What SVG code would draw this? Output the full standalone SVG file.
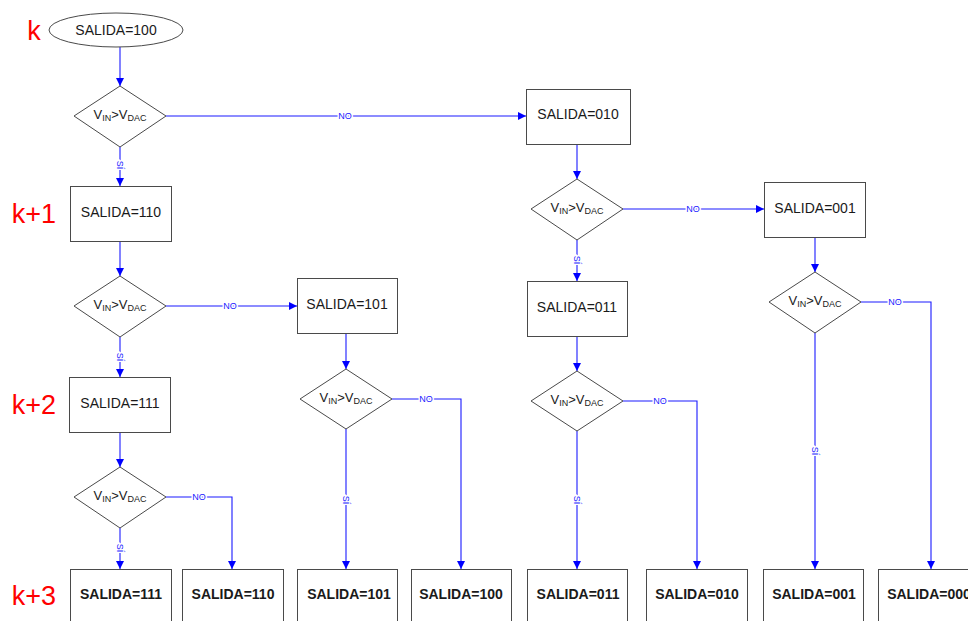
<svg xmlns="http://www.w3.org/2000/svg" width="968" height="621" viewBox="0 0 968 621">
  <defs>
    <marker id="arrow" viewBox="0 0 8 8" refX="8" refY="4" markerWidth="8" markerHeight="8" markerUnits="userSpaceOnUse" orient="auto">
      <path d="M0,0 L8,4 L0,8 z" fill="#0000ff"/>
    </marker>
    <style>
      .box { fill: #ffffff; stroke: #4a4a4a; stroke-width: 1; }
      .txt { font-family: "Liberation Sans", Arial, sans-serif; font-size: 14px; fill: #1a1a1a; text-anchor: middle; }
      .bold { font-weight: bold; }
      .cond { font-family: "Liberation Sans", Arial, sans-serif; font-size: 13px; fill: #1a1a1a; text-anchor: middle; }
      .sub { font-size: 9px; }
      .conn { fill: none; stroke: #1a1aff; stroke-width: 1.1; }
      .lbl { font-family: "Liberation Sans", Arial, sans-serif; font-size: 9px; fill: #1a1aff; text-anchor: middle; stroke: #ffffff; stroke-width: 3; paint-order: stroke; }
      .step { font-family: "Liberation Sans", Arial, sans-serif; font-size: 27px; fill: #ff0000; text-anchor: middle; }
    </style>
  </defs>
  <rect width="968" height="621" fill="#ffffff"/>

  <!-- step labels -->
  <g id="steps">
    <text class="step" x="34" y="40">k</text>
    <text class="step" x="34" y="223">k+1</text>
    <text class="step" x="34" y="414">k+2</text>
    <text class="step" x="34" y="605">k+3</text>
  </g>

  <!-- connectors -->
  <g id="connectors">
    <path class="conn" d="M120,47 V86" marker-end="url(#arrow)"/>
    <path class="conn" d="M166,116 H526" marker-end="url(#arrow)"/>
    <path class="conn" d="M120,147 V186" marker-end="url(#arrow)"/>
    <path class="conn" d="M120,242 V276" marker-end="url(#arrow)"/>
    <path class="conn" d="M166,306 H297" marker-end="url(#arrow)"/>
    <path class="conn" d="M120,337 V377" marker-end="url(#arrow)"/>
    <path class="conn" d="M120,433 V467" marker-end="url(#arrow)"/>
    <path class="conn" d="M166,497 H232 V569" marker-end="url(#arrow)"/>
    <path class="conn" d="M120,528 V569" marker-end="url(#arrow)"/>
    <path class="conn" d="M346,333 V369" marker-end="url(#arrow)"/>
    <path class="conn" d="M392,399 H461 V569" marker-end="url(#arrow)"/>
    <path class="conn" d="M346,429 V569" marker-end="url(#arrow)"/>
    <path class="conn" d="M577,144 V179" marker-end="url(#arrow)"/>
    <path class="conn" d="M623,209 H764" marker-end="url(#arrow)"/>
    <path class="conn" d="M577,240 V281" marker-end="url(#arrow)"/>
    <path class="conn" d="M577,336 V371" marker-end="url(#arrow)"/>
    <path class="conn" d="M623,401 H697 V569" marker-end="url(#arrow)"/>
    <path class="conn" d="M577,431 V569" marker-end="url(#arrow)"/>
    <path class="conn" d="M815,237 V272" marker-end="url(#arrow)"/>
    <path class="conn" d="M861,302 H931 V569" marker-end="url(#arrow)"/>
    <path class="conn" d="M815,333 V569" marker-end="url(#arrow)"/>

    <text class="lbl" x="345" y="119">NO</text>
    <text class="lbl" x="230" y="309">NO</text>
    <text class="lbl" x="199" y="500">NO</text>
    <text class="lbl" x="426" y="402">NO</text>
    <text class="lbl" x="693" y="212">NO</text>
    <text class="lbl" x="660" y="404">NO</text>
    <text class="lbl" x="895" y="305">NO</text>

    <text class="lbl" transform="translate(117,165) rotate(90)">SÍ</text>
    <text class="lbl" transform="translate(117,357) rotate(90)">SÍ</text>
    <text class="lbl" transform="translate(117,548) rotate(90)">SÍ</text>
    <text class="lbl" transform="translate(343,500) rotate(90)">SÍ</text>
    <text class="lbl" transform="translate(574,260) rotate(90)">SÍ</text>
    <text class="lbl" transform="translate(574,500) rotate(90)">SÍ</text>
    <text class="lbl" transform="translate(812,451) rotate(90)">SÍ</text>
  </g>

  <!-- start -->
  <g id="start">
    <ellipse class="box" cx="116" cy="30" rx="67" ry="17"/>
    <text class="txt" x="116" y="35">SALIDA=100</text>
  </g>

  <!-- comparisons -->
  <g id="d1">
    <polygon class="box" points="120,86 166,116 120,147 74,116"/>
    <text class="cond" x="120" y="119">V<tspan class="sub" dy="2">IN</tspan><tspan dy="-2">&gt;V</tspan><tspan class="sub" dy="2">DAC</tspan></text>
  </g>
  <g id="d2">
    <polygon class="box" points="120,276 166,306 120,337 74,306"/>
    <text class="cond" x="120" y="309">V<tspan class="sub" dy="2">IN</tspan><tspan dy="-2">&gt;V</tspan><tspan class="sub" dy="2">DAC</tspan></text>
  </g>
  <g id="d3">
    <polygon class="box" points="120,467 166,497 120,528 74,497"/>
    <text class="cond" x="120" y="500">V<tspan class="sub" dy="2">IN</tspan><tspan dy="-2">&gt;V</tspan><tspan class="sub" dy="2">DAC</tspan></text>
  </g>
  <g id="d4">
    <polygon class="box" points="346,369 392,399 346,429 300,399"/>
    <text class="cond" x="346" y="402">V<tspan class="sub" dy="2">IN</tspan><tspan dy="-2">&gt;V</tspan><tspan class="sub" dy="2">DAC</tspan></text>
  </g>
  <g id="d5">
    <polygon class="box" points="577,179 623,209 577,240 531,209"/>
    <text class="cond" x="577" y="212">V<tspan class="sub" dy="2">IN</tspan><tspan dy="-2">&gt;V</tspan><tspan class="sub" dy="2">DAC</tspan></text>
  </g>
  <g id="d6">
    <polygon class="box" points="577,371 623,401 577,431 531,401"/>
    <text class="cond" x="577" y="404">V<tspan class="sub" dy="2">IN</tspan><tspan dy="-2">&gt;V</tspan><tspan class="sub" dy="2">DAC</tspan></text>
  </g>
  <g id="d7">
    <polygon class="box" points="815,272 861,302 815,333 769,302"/>
    <text class="cond" x="815" y="305">V<tspan class="sub" dy="2">IN</tspan><tspan dy="-2">&gt;V</tspan><tspan class="sub" dy="2">DAC</tspan></text>
  </g>

  <!-- intermediate outputs -->
  <g id="s110">
    <rect class="box" x="70.5" y="186.5" width="101" height="55"/>
    <text class="txt" x="121" y="217">SALIDA=110</text>
  </g>
  <g id="s111">
    <rect class="box" x="69.5" y="377.5" width="101" height="55"/>
    <text class="txt" x="120" y="408">SALIDA=111</text>
  </g>
  <g id="s101">
    <rect class="box" x="297.5" y="278.5" width="100" height="55"/>
    <text class="txt" x="347" y="309">SALIDA=101</text>
  </g>
  <g id="s010">
    <rect class="box" x="526.5" y="89.5" width="104" height="55"/>
    <text class="txt" x="578" y="119">SALIDA=010</text>
  </g>
  <g id="s011">
    <rect class="box" x="527.5" y="281.5" width="100" height="55"/>
    <text class="txt" x="577" y="312">SALIDA=011</text>
  </g>
  <g id="s001">
    <rect class="box" x="764.5" y="182.5" width="101" height="55"/>
    <text class="txt" x="815" y="213">SALIDA=001</text>
  </g>

  <!-- final outputs -->
  <g id="f111">
    <rect class="box" x="70.5" y="569.5" width="101" height="56"/>
    <text class="txt bold" x="121" y="599">SALIDA=111</text>
  </g>
  <g id="f110">
    <rect class="box" x="182.5" y="569.5" width="101" height="56"/>
    <text class="txt bold" x="233" y="599">SALIDA=110</text>
  </g>
  <g id="f101">
    <rect class="box" x="297.5" y="569.5" width="100" height="56"/>
    <text class="txt bold" x="349" y="599">SALIDA=101</text>
  </g>
  <g id="f100">
    <rect class="box" x="411.5" y="569.5" width="100" height="56"/>
    <text class="txt bold" x="461" y="599">SALIDA=100</text>
  </g>
  <g id="f011">
    <rect class="box" x="527.5" y="569.5" width="100" height="56"/>
    <text class="txt bold" x="578" y="599">SALIDA=011</text>
  </g>
  <g id="f010">
    <rect class="box" x="646.5" y="569.5" width="101" height="56"/>
    <text class="txt bold" x="697" y="599">SALIDA=010</text>
  </g>
  <g id="f001">
    <rect class="box" x="763.5" y="569.5" width="100" height="56"/>
    <text class="txt bold" x="814" y="599">SALIDA=001</text>
  </g>
  <g id="f000">
    <rect class="box" x="878.5" y="569.5" width="101" height="56"/>
    <text class="txt bold" x="929" y="599">SALIDA=000</text>
  </g>
</svg>
